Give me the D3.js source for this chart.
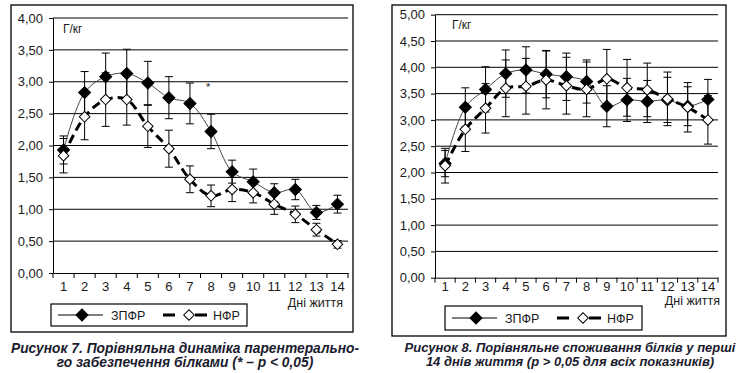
<!DOCTYPE html>
<html>
<head>
<meta charset="utf-8">
<script src="https://cdn.jsdelivr.net/npm/d3@7"></script>
<style>
  body { margin: 0; background: #fff; }
  svg text { font-family: "Liberation Sans", Arial, sans-serif; fill: #1a1a1a; }
</style>
</head>
<body>
<div id="chart"></div>
<script>
// categories: days of life
const days = [1, 2, 3, 4, 5, 6, 7, 8, 9, 10, 11, 12, 13, 14];
const seriesNames = ["ЗПФР", "НФР"];

// Figure 7: parenteral protein supply, g/kg (mean and error)
const zpfr7 = [1.93, 2.83, 3.08, 3.13, 2.98, 2.75, 2.66, 2.22, 1.59, 1.43, 1.26, 1.31, 0.95, 1.08];
const zpfr7Err = [0.22, 0.33, 0.37, 0.38, 0.34, 0.33, 0.32, 0.27, 0.18, 0.20, 0.14, 0.16, 0.11, 0.14];
const nfr7 = [1.84, 2.45, 2.72, 2.72, 2.30, 1.95, 1.47, 1.21, 1.31, 1.26, 1.08, 0.92, 0.68, 0.45];
const nfr7Err = [0.27, 0.36, 0.42, 0.40, 0.33, 0.29, 0.21, 0.17, 0.19, 0.16, 0.16, 0.13, 0.10, 0.06];
const yTicks7 = [0, 0.5, 1, 1.5, 2, 2.5, 3, 3.5, 4];
const stars7 = [{day: 8, value: 2.85}];
const caption7 = ["Рисунок 7. Порівняльна динаміка парентерально-", "го забезпечення білками (* – p < 0,05)"];

// Figure 8: protein intake, g/kg
const zpfr8 = [2.17, 3.24, 3.58, 3.88, 3.95, 3.87, 3.82, 3.73, 3.26, 3.38, 3.35, 3.38, 3.26, 3.39];
const zpfr8Err = [0.25, 0.37, 0.43, 0.45, 0.44, 0.45, 0.45, 0.41, 0.39, 0.41, 0.40, 0.43, 0.37, 0.38];
const nfr8 = [2.13, 2.82, 3.22, 3.60, 3.64, 3.76, 3.65, 3.58, 3.78, 3.61, 3.57, 3.40, 3.24, 3.00];
const nfr8Err = [0.33, 0.42, 0.47, 0.54, 0.53, 0.55, 0.54, 0.52, 0.56, 0.54, 0.51, 0.51, 0.47, 0.46];
const yTicks8 = [0, 0.5, 1, 1.5, 2, 2.5, 3, 3.5, 4, 4.5, 5];
const stars8 = [];
const caption8 = ["Рисунок 8. Порівняльне споживання білків у перші", "14 днів життя (p > 0,05 для всіх показників)"];

const unitLabel = "Г/кг";
const xTitle = "Дні життя";

const ua = d3.formatLocale({decimal: ",", thousands: "\u00a0", grouping: [3], currency: ["", ""]});
const fmt = ua.format(".2f");

const svg = d3.select("#chart").append("svg")
    .attr("width", 746)
    .attr("height", 373);

function diamond(sel, size, filled) {
    sel.attr("d", d3.symbol(d3.symbolSquare, size)())
        .attr("fill", filled ? "#000" : "#fff")
        .attr("stroke", "#000")
        .attr("stroke-width", 1);
}

function drawChart(opt) {
    const g = svg.append("g");
    const x = d3.scaleBand().domain(days).range([opt.left, opt.right]);
    const y = d3.scaleLinear().domain([0, opt.yMax]).range([opt.bottom, opt.top]);
    const cx = d => x(d) + x.bandwidth() / 2;

    // outer frame
    g.append("rect")
        .attr("x", opt.frame[0]).attr("y", opt.frame[1])
        .attr("width", opt.frame[2] - opt.frame[0])
        .attr("height", opt.frame[3] - opt.frame[1])
        .attr("fill", "none").attr("stroke", "#000").attr("stroke-width", 1.3);

    // horizontal grid
    g.append("g").selectAll("line")
        .data(opt.yTicks.filter(v => v > 0))
        .join("line")
        .attr("x1", opt.left).attr("x2", opt.right)
        .attr("y1", d => y(d)).attr("y2", d => y(d))
        .attr("stroke", "#000").attr("stroke-width", 1);

    // y axis
    g.append("g")
        .attr("transform", `translate(${opt.left},0)`)
        .call(d3.axisLeft(y).tickValues(opt.yTicks).tickFormat(fmt).tickSize(4).tickSizeOuter(0).tickPadding(6))
        .attr("font-family", null).attr("font-size", 13);

    // x axis, labels centred in bands, ticks on band borders
    g.append("g")
        .attr("transform", `translate(0,${opt.bottom})`)
        .call(d3.axisBottom(x).tickSize(0).tickSizeOuter(0).tickPadding(opt.xPad))
        .attr("font-family", null).attr("font-size", 13);
    g.append("g").selectAll("line")
        .data(days.map(d => x(d)).concat([opt.right]))
        .join("line")
        .attr("x1", d => d).attr("x2", d => d)
        .attr("y1", opt.bottom).attr("y2", opt.bottom + 5)
        .attr("stroke", "#000");
    g.selectAll(".domain").attr("stroke", "#000");
    g.selectAll(".tick line").attr("stroke", "#000");

    g.append("text").attr("x", opt.unitPos[0]).attr("y", opt.unitPos[1])
        .attr("font-size", 12).text(unitLabel);
    g.append("text").attr("x", opt.titlePos[0]).attr("y", opt.titlePos[1])
        .attr("text-anchor", "end").attr("font-size", 12.5).text(xTitle);

    const line = d3.line()
        .x(d => cx(d.day))
        .y(d => y(d.value))
        .curve(d3.curveCatmullRom.alpha(0.5));

    const series = [
        {values: opt.zpfr, err: opt.zpfrErr, filled: true, stroke: "#444", width: 1, dash: null, size: 72},
        {values: opt.nfr, err: opt.nfrErr, filled: false, stroke: "#000", width: 3, dash: "9,5", size: 56}
    ];

    series.forEach(s => {
        const pts = days.map((d, i) => ({day: d, value: s.values[i], err: s.err[i]}));
        const sg = g.append("g");

        // error bars
        const eb = sg.append("g").selectAll("g").data(pts).join("g");
        eb.append("line")
            .attr("x1", d => cx(d.day)).attr("x2", d => cx(d.day))
            .attr("y1", d => y(d.value - d.err)).attr("y2", d => y(d.value + d.err));
        eb.append("line")
            .attr("x1", d => cx(d.day) - 4).attr("x2", d => cx(d.day) + 4)
            .attr("y1", d => y(d.value + d.err)).attr("y2", d => y(d.value + d.err));
        eb.append("line")
            .attr("x1", d => cx(d.day) - 4).attr("x2", d => cx(d.day) + 4)
            .attr("y1", d => y(d.value - d.err)).attr("y2", d => y(d.value - d.err));
        eb.selectAll("line").attr("stroke", "#000").attr("stroke-width", 1);

        sg.append("path")
            .datum(pts)
            .attr("d", line)
            .attr("fill", "none")
            .attr("stroke", s.stroke)
            .attr("stroke-width", s.width)
            .attr("stroke-dasharray", s.dash);

        sg.append("g").selectAll("path").data(pts).join("path")
            .call(diamond, s.size, s.filled)
            .attr("transform", d => `translate(${cx(d.day)},${y(d.value)}) rotate(45)`);
    });

    g.selectAll(null).data(opt.stars).join("text")
        .attr("x", d => cx(d.day) - 5).attr("y", d => y(d.value))
        .attr("font-size", 11).attr("fill", "#3b4f8a")
        .text("*");

    // legend
    const L = opt.legend;
    const lg = g.append("g");
    lg.append("rect").attr("x", L.x).attr("y", L.y).attr("width", L.w).attr("height", L.h)
        .attr("fill", "#fff").attr("stroke", "#000").attr("stroke-width", 1.2);
    const my = L.y + L.h / 2;
    lg.append("line").attr("x1", L.x + 7).attr("x2", L.x + 52).attr("y1", my).attr("y2", my)
        .attr("stroke", "#000").attr("stroke-width", 1);
    lg.append("path").call(diamond, 72, true)
        .attr("transform", `translate(${L.x + 31},${my}) rotate(45)`);
    lg.append("text").attr("x", L.x + 60).attr("y", my + 4.5).attr("font-size", 12.5).text(seriesNames[0]);
    lg.append("line").attr("x1", L.x + 112).attr("x2", L.x + 156).attr("y1", my).attr("y2", my)
        .attr("stroke", "#000").attr("stroke-width", 3).attr("stroke-dasharray", "12,20,12");
    lg.append("path").call(diamond, 56, false)
        .attr("transform", `translate(${L.x + 138},${my}) rotate(45)`);
    lg.append("text").attr("x", L.x + 162).attr("y", my + 4.5).attr("font-size", 12.5).text(seriesNames[1]);

    // caption
    svg.append("g").selectAll("text").data(opt.caption).join("text")
        .attr("x", opt.capX).attr("y", (d, i) => opt.capY + i * 14)
        .attr("text-anchor", "middle")
        .attr("font-size", opt.capSize).attr("font-weight", "bold").attr("font-style", "italic")
        .style("fill", "#1b1b2e")
        .text(d => d);
}

drawChart({
    frame: [11, 5, 353, 332], left: 53, right: 348, top: 18, bottom: 273, yMax: 4, yTicks: yTicks7,
    xPad: 9, unitPos: [63, 33], titlePos: [343, 307],
    zpfr: zpfr7, zpfrErr: zpfr7Err, nfr: nfr7, nfrErr: nfr7Err, stars: stars7,
    legend: {x: 51, y: 304, w: 196, h: 22},
    caption: caption7, capX: 185, capY: 353, capSize: 13.8
});

drawChart({
    frame: [392, 5, 726, 336], left: 435, right: 718, top: 14.7, bottom: 277.7, yMax: 5, yTicks: yTicks8,
    xPad: 4.5, unitPos: [452, 29], titlePos: [720, 305],
    zpfr: zpfr8, zpfrErr: zpfr8Err, nfr: nfr8, nfrErr: nfr8Err, stars: stars8,
    legend: {x: 445, y: 306, w: 197, h: 24},
    caption: caption8, capX: 570, capY: 352, capSize: 13
});
</script>
</body>
</html>
